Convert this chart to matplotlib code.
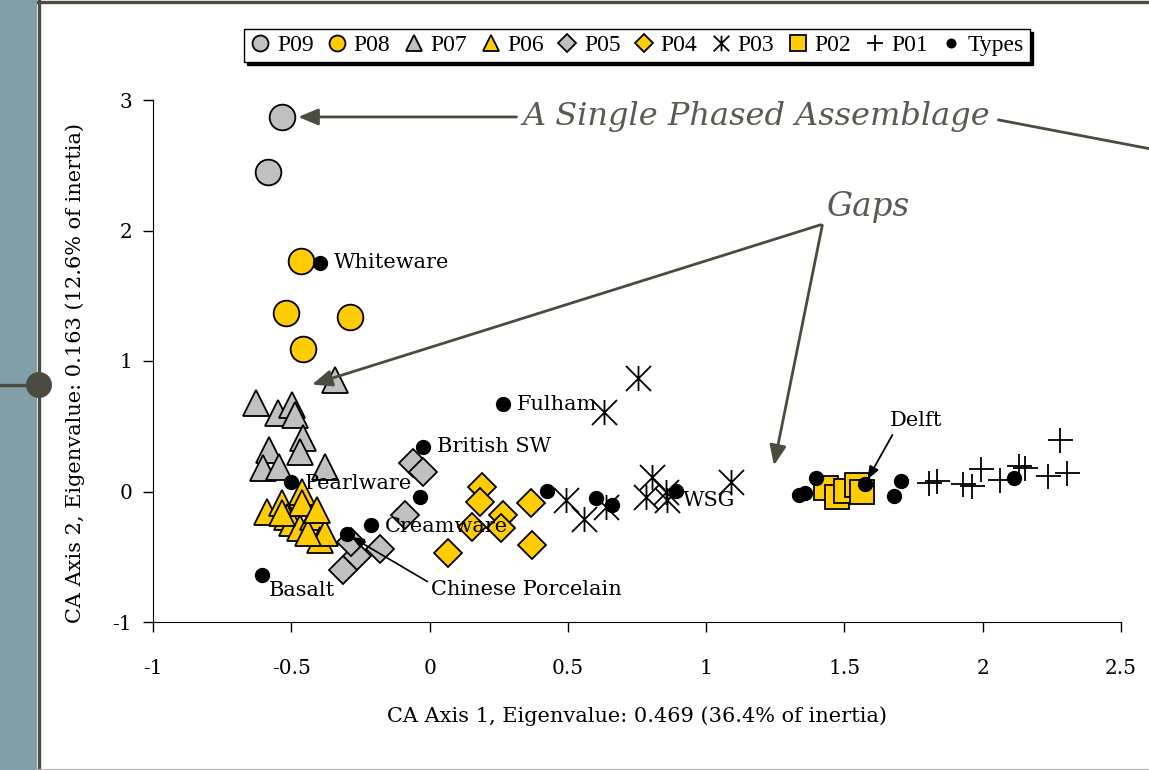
import numpy as np
import matplotlib.pyplot as plt
from matplotlib.path import Path
from matplotlib.patches import Rectangle, Ellipse
from matplotlib.lines import Line2D

plt.rcParams['font.family'] = 'DejaVu Serif'

# CA scores (axis 1, axis 2)
p09_x = [-0.534, -0.585]
p09_y = [2.87, 2.45]

p08_x = [-0.466, -0.52, -0.289, -0.458]
p08_y = [1.77, 1.37, 1.34, 1.09]

p07_x = [-0.628, -0.549, -0.498, -0.487, -0.458, -0.469, -0.581, -0.603, -0.545, -0.379, -0.343]
p07_y = [0.678, 0.602, 0.663, 0.586, 0.410, 0.303, 0.318, 0.180, 0.188, 0.188, 0.854]

p06_x = [-0.588, -0.534, -0.462, -0.516, -0.498, -0.469, -0.422, -0.397, -0.379, -0.440, -0.462, -0.408, -0.534]
p06_y = [-0.157, -0.088, -0.004, -0.195, -0.241, -0.280, -0.195, -0.372, -0.318, -0.318, -0.088, -0.142, -0.165]

p05_x = [-0.061, -0.025, -0.090, -0.181, -0.264, -0.314, -0.285]
p05_y = [0.218, 0.149, -0.180, -0.441, -0.494, -0.602, -0.387]

p04_x = [0.191, 0.181, 0.368, 0.264, 0.152, 0.260, 0.065, 0.372]
p04_y = [0.034, -0.080, -0.088, -0.180, -0.272, -0.280, -0.471, -0.410]

p03_x = [0.755, 0.632, 0.495, 0.560, 0.639, 0.805, 0.783, 0.856, 0.859, 1.090]
p03_y = [0.870, 0.609, -0.065, -0.211, -0.119, 0.111, -0.042, -0.004, -0.065, 0.073]

p02_x = [1.433, 1.473, 1.505, 1.545, 1.563]
p02_y = [0.027, -0.042, 0.004, 0.050, -0.004]

p01_x = [1.805, 1.834, 1.928, 1.960, 1.993, 2.061, 2.130, 2.152, 2.235, 2.303, 2.278]
p01_y = [0.065, 0.080, 0.057, 0.042, 0.172, 0.088, 0.195, 0.180, 0.119, 0.142, 0.395]

type_x = [-0.397, 0.264, -0.022, -0.502, -0.213, -0.300, -0.606, 0.892, 1.574,
          -0.036, 0.426, 0.603, 0.661, 1.336, 1.357, 1.397, 1.704, 1.679, 2.112]
type_y = [1.751, 0.670, 0.341, 0.073, -0.257, -0.326, -0.640, 0.004, 0.057,
          -0.042, 0.004, -0.050, -0.103, -0.027, -0.011, 0.103, 0.080, -0.034, 0.103]
type_names = ['Whiteware', 'Fulham', 'British SW', 'Pearlware', 'Creamware',
              'Chinese Porcelain', 'Basalt', 'WSG', 'Delft']

grey = '#c0c0c0'
yellow = '#ffcc00'
dark = '#4b4b40'

star = Path([(-1, -1), (1, 1), (-1, 1), (1, -1), (0, -1), (0, 1)],
            [Path.MOVETO, Path.LINETO] * 3)

W, H = 1149, 770
fig = plt.figure(figsize=(W / 100, H / 100), dpi=100)
ax = fig.add_axes([153 / W, 1 - 622 / H, (1121 - 153) / W, (622 - 100) / H])

series = [
    (p09_x, p09_y, 'o', grey, 18.5, 'P09'),
    (p08_x, p08_y, 'o', yellow, 18.5, 'P08'),
    (p07_x, p07_y, '^', grey, 19, 'P07'),
    (p06_x, p06_y, '^', yellow, 19, 'P06'),
    (p05_x, p05_y, 'D', grey, 14, 'P05'),
    (p04_x, p04_y, 'D', yellow, 14, 'P04'),
    (p03_x, p03_y, star, 'none', 18, 'P03'),
    (p02_x, p02_y, 's', yellow, 17.5, 'P02'),
    (p01_x, p01_y, '+', 'none', 18, 'P01'),
]
handles = []
for xs, ys, mk, fc, ms, lab in series:
    h, = ax.plot(xs, ys, ls='none', marker=mk, ms=ms, mfc=fc, mec='black',
                 mew=1.3, label=lab)
    handles.append(h)
h, = ax.plot(type_x, type_y, ls='none', marker='o', ms=10, mfc='black',
             mec='black', label='Types')
handles.append(h)

# type labels
lab_size = 15
offsets = [(10, 0, 'left', 'center'), (10, 0, 'left', 'center'), (10, 0, 'left', 'center'),
           (10, -1, 'left', 'center'), (10, -1, 'left', 'center'), None,
           (5, -11, 'left', 'center'), (5, -7, 'left', 'center'), None]
for name, x, y, off in zip(type_names, type_x, type_y, offsets):
    if off is None:
        continue
    ax.annotate(name, (x, y), xytext=off[:2], textcoords='offset points',
                ha=off[2], va=off[3], fontsize=lab_size)

ax.annotate('Delft', (type_x[8], type_y[8]), xytext=(37, 46), textcoords='offset points',
            ha='center', va='center', fontsize=lab_size,
            arrowprops=dict(arrowstyle='-|>,head_length=0.5,head_width=0.2', color='black',
                            lw=1.3, relpos=(0.1, 0), shrinkA=2, shrinkB=4, mutation_scale=15))
ax.annotate('Chinese Porcelain', (type_x[5], type_y[5]), xytext=(61, -40),
            textcoords='offset points', ha='left', va='center', fontsize=lab_size,
            arrowprops=dict(arrowstyle='-|>,head_length=0.5,head_width=0.2', color='black',
                            lw=1.2, relpos=(0, 0.8), shrinkA=1, shrinkB=4, mutation_scale=15))

# callouts
arrow_kw = dict(arrowstyle='-|>,head_length=0.6,head_width=0.25', color=dark, lw=2,
                mutation_scale=20, shrinkA=2, shrinkB=0)
ax.annotate('A Single Phased Assemblage', (-0.475, 2.87), xytext=(1.18, 2.87),
            ha='center', va='center', fontsize=23, style='italic', color='#5a5a52',
            arrowprops=dict(arrow_kw, relpos=(0, 0.5)), annotation_clip=False)
ax.plot([2.058, 2.62], [2.847, 2.62], color=dark, lw=2, clip_on=False)

ax.annotate('Gaps', (-0.425, 0.82), xytext=(1.585, 2.18), ha='center', va='center',
            fontsize=23.5, style='italic', color='#5a5a52',
            arrowprops=dict(arrow_kw, relpos=(0, 0)), annotation_clip=False)
ax.annotate('', (1.245, 0.2), xytext=(1.42, 2.04),
            arrowprops=dict(arrow_kw, shrinkA=0), annotation_clip=False)

ax.set_xlim(-1, 2.5)
ax.set_ylim(-1, 3)
ax.set_xticks(np.arange(-1, 2.51, 0.5))
ax.set_xticklabels(['-1', '-0.5', '0', '0.5', '1', '1.5', '2', '2.5'])
ax.set_yticks([-1, 0, 1, 2, 3])
ax.set_yticklabels(['-1', '0', '1', '2', '3'])
for s in ['top', 'right']:
    ax.spines[s].set_visible(False)
ax.tick_params(axis='x', length=7, width=1, pad=20, labelsize=14.5)
ax.tick_params(axis='y', length=7, width=1, pad=8, labelsize=14.5)
ax.set_xlabel('CA Axis 1, Eigenvalue: 0.469 (36.4% of inertia)', fontsize=15, labelpad=20)
ax.set_ylabel('CA Axis 2, Eigenvalue: 0.163 (12.6% of inertia)', fontsize=15)
ax.yaxis.set_label_coords(-0.070, 0.477)

leg = fig.legend(handles=handles, loc='upper center', bbox_to_anchor=(637 / W, 1 - 17 / H),
                 ncol=10, markerscale=0.62, handlelength=0.9, handletextpad=0.25,
                 columnspacing=0.55, borderpad=0.25, fancybox=False, framealpha=1,
                 edgecolor='black', shadow={'color': 'black', 'alpha': 1},
                 prop={'family': 'Liberation Serif', 'size': 17})
leg.get_frame().set_linewidth(1)

# slide decoration
fig.add_artist(Rectangle((0, 0), 37 / W, 1, transform=fig.transFigure,
                         color='#809fa8', lw=0, zorder=0))
fig.add_artist(Line2D([38.5 / W, 38.5 / W], [0, 1], transform=fig.transFigure,
                      color=dark, lw=2.4))
fig.add_artist(Line2D([38 / W, 1], [1 - 1.5 / H, 1 - 1.5 / H], transform=fig.transFigure,
                      color=dark, lw=2.4))
fig.add_artist(Line2D([38 / W, 1], [0.5 / H, 0.5 / H], transform=fig.transFigure,
                      color='#b4b4b4', lw=1.5))
fig.add_artist(Line2D([0, 39 / W], [1 - 385 / H, 1 - 385 / H], transform=fig.transFigure,
                      color=dark, lw=2.4))
fig.add_artist(Ellipse((39 / W, 1 - 385 / H), 26 / W, 26 / H, transform=fig.transFigure,
                       color=dark, lw=0))

fig.savefig('out.png', dpi=100)
